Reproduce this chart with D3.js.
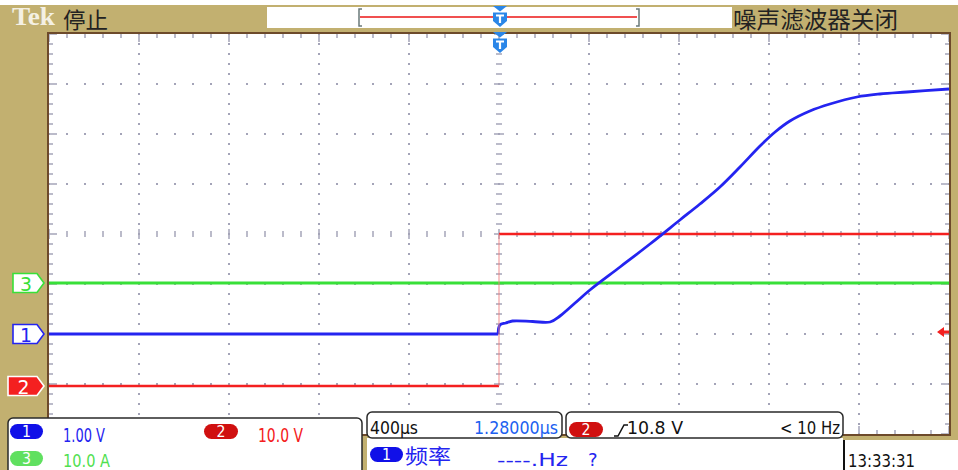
<!DOCTYPE html>
<html><head><meta charset="utf-8">
<script src="https://cdn.jsdelivr.net/npm/d3@7"></script>
<style>html,body{margin:0;padding:0;background:#fff;overflow:hidden}</style>
</head><body><svg id="scope" width="958" height="470"></svg>
<script>
// Channel 1 (1.00 V/div): time in µs relative to trigger, value in volts
const ch1Time  = [-2000, -4, 4, 30, 60, 150, 227, 271, 338, 404, 538, 671, 804, 893, 982, 1071, 1160, 1227, 1293, 1382, 1471, 1591, 1693, 1813, 2000];
const ch1Volts = [0, 0, 0.18, 0.22, 0.26, 0.25, 0.24, 0.36, 0.62, 0.88, 1.34, 1.80, 2.28, 2.60, 2.94, 3.34, 3.76, 4.04, 4.26, 4.46, 4.60, 4.74, 4.80, 4.84, 4.90];
// Channel 2 (10.0 V/div): step at the trigger
const ch2Time  = [-2000, 0, 0, 2000];
const ch2Volts = [0, 0, 30.4, 30.4];
// Channel 3 (10.0 A/div)
const ch3Time  = [-2000, 2000];
const ch3Amps  = [0, 0];

const timePerDiv = 400;          // µs/div
const ch1PerDiv = 1.0, ch2PerDiv = 10.0, ch3PerDiv = 10.0;
const ch1Offset = -2.0, ch2Offset = -3.04, ch3Offset = -0.98;   // ground position, divisions
const triggerLevel = 10.8;       // V on channel 2

const readouts = {ch1: "1.00 V", ch2: "10.0 V", ch3: "10.0 A", timebase: "400\u00b5s", position: "1.28000\u00b5s",
  trig: "10.8 V", trigFreq: "< 10 Hz", meas: "\u9891\u7387", measVal: "----.Hz", measQ: "?", clock: "13:33:31",
  state: "\u505c\u6b62", filter: "\u566a\u58f0\u6ee4\u6ce2\u5668\u5173\u95ed"};

const TAN = "#c2b070", BROWN = "#6d4a2b", DOT = "#a4a4b8";
const BLUE = "#2424f0", RED = "#f42020", GREEN = "#38e038";
const SANS = "'DejaVu Sans',sans-serif";
const CJK = "'Noto Sans CJK SC',sans-serif";

const svg = d3.select("#scope");
const xDiv = d3.scaleLinear().domain([-5, 5]).range([49, 949]);
const yDiv = d3.scaleLinear().domain([-4, 4]).range([434, 34]);
const xT = d3.scaleLinear().domain([-5 * timePerDiv, 5 * timePerDiv]).range([49, 949]);

// frame
svg.append("rect").attr("width", 958).attr("height", 470).attr("fill", TAN);
svg.append("rect").attr("width", 958).attr("height", 5).attr("fill", "#fff");
svg.append("rect").attr("x", xDiv(-5)).attr("y", yDiv(4)).attr("width", xDiv(5) - xDiv(-5)).attr("height", yDiv(-4) - yDiv(4)).attr("fill", "#fff");

// graticule
const g = svg.append("g");
const dots = [];
d3.range(-4, 5).forEach(i => { if (i !== 0) d3.range(-4, 4.01, 0.2).forEach(j => dots.push([xDiv(i), yDiv(j)])); });
d3.range(-3, 4).forEach(j => { if (j !== 0) d3.range(-5, 5.01, 0.2).forEach(i => dots.push([xDiv(i), yDiv(j)])); });
g.selectAll("rect.dot").data(dots).join("rect").attr("class", "dot")
  .attr("x", d => d[0] - 1).attr("y", d => d[1] - 1).attr("width", 2).attr("height", 2).attr("fill", DOT);
const hTicks = d3.range(-5, 5.01, 0.2).map(v => [v, Math.abs(v - Math.round(v)) < 1e-6]);
const vTicks = d3.range(-4, 4.01, 0.2).map(v => [v, Math.abs(v - Math.round(v)) < 1e-6]);
function tickSet(cls, data, attrs) {
  const sel = g.selectAll("line." + cls).data(data).join("line").attr("class", cls)
    .attr("stroke", DOT).attr("stroke-width", 1.5);
  Object.entries(attrs).forEach(([k, v]) => sel.attr(k, v));
}
// center-line ticks
tickSet("ch", hTicks, {x1: d => xDiv(d[0]), x2: d => xDiv(d[0]), y1: d => yDiv(0) - (d[1] ? 5 : 3), y2: d => yDiv(0) + (d[1] ? 5 : 3)});
tickSet("cv", vTicks, {y1: d => yDiv(d[0]), y2: d => yDiv(d[0]), x1: d => xDiv(0) - (d[1] ? 5 : 3), x2: d => xDiv(0) + (d[1] ? 5 : 3)});
// edge ticks
tickSet("et", hTicks, {x1: d => xDiv(d[0]), x2: d => xDiv(d[0]), y1: yDiv(4), y2: d => yDiv(4) + (d[1] ? 8 : 4)});
tickSet("eb", hTicks, {x1: d => xDiv(d[0]), x2: d => xDiv(d[0]), y1: yDiv(-4), y2: d => yDiv(-4) - (d[1] ? 8 : 4)});
tickSet("el", vTicks, {y1: d => yDiv(d[0]), y2: d => yDiv(d[0]), x1: xDiv(-5), x2: d => xDiv(-5) + (d[1] ? 8 : 4)});
tickSet("er", vTicks, {y1: d => yDiv(d[0]), y2: d => yDiv(d[0]), x1: xDiv(5), x2: d => xDiv(5) - (d[1] ? 8 : 4)});

// border
svg.append("rect").attr("x", xDiv(-5) - 1).attr("y", yDiv(4) - 1).attr("width", xDiv(5) - xDiv(-5) + 2).attr("height", yDiv(-4) - yDiv(4) + 2)
  .attr("fill", "none").attr("stroke", BROWN).attr("stroke-width", 2);

// traces
const traces = svg.append("g");
const line = d3.line().x(d => xT(d[0])).y(d => d[1]);
const smooth = d3.line().x(d => xT(d[0])).y(d => d[1]).curve(d3.curveCatmullRom.alpha(0.5));
const ch3 = ch3Time.map((t, i) => [t, yDiv(ch3Offset + ch3Amps[i] / ch3PerDiv)]);
const ch2 = ch2Time.map((t, i) => [t, yDiv(ch2Offset + ch2Volts[i] / ch2PerDiv)]);
const ch1 = ch1Time.map((t, i) => [t, yDiv(ch1Offset + ch1Volts[i] / ch1PerDiv)]);
traces.append("path").attr("d", line(ch3)).attr("fill", "none").attr("stroke", GREEN).attr("stroke-width", 2.8);
traces.append("path").attr("d", line(ch2.slice(0, 2))).attr("fill", "none").attr("stroke", RED).attr("stroke-width", 2.6);
traces.append("path").attr("d", line(ch2.slice(2))).attr("fill", "none").attr("stroke", RED).attr("stroke-width", 2.6);
traces.append("path").attr("d", line(ch1.slice(0, 2))).attr("fill", "none").attr("stroke", BLUE).attr("stroke-width", 2.8);
traces.append("path").attr("d", smooth(ch1.slice(1))).attr("fill", "none").attr("stroke", BLUE).attr("stroke-width", 2.8);
traces.append("path").attr("d", line(ch2.slice(1, 3))).attr("fill", "none").attr("stroke", "#f08080").attr("stroke-opacity", 0.45).attr("stroke-width", 2);

// text helper; w gives the drawn width of the string
function txt(x, y, s, color, size, w, anchor, fam) {
  const t = svg.append("text").attr("x", x).attr("y", y).attr("text-anchor", anchor || "start")
    .attr("font-family", fam || SANS).attr("font-size", size).attr("fill", color).text(s);
  if (w) t.attr("textLength", w).attr("lengthAdjust", "spacingAndGlyphs");
  return t;
}

// left channel markers
function chMarker(x0, y, fill, stroke, label, color) {
  const h = 9.5, tip = 44, body = tip - 7;
  svg.append("path").attr("d", `M${x0},${y - h}H${body}L${tip},${y}L${body},${y + h}H${x0}Z`)
    .attr("fill", fill).attr("stroke", stroke).attr("stroke-width", 1.6);
  txt((x0 + body) / 2 + 1, y + 7.5, label, color, 20, 12, "middle");
}
chMarker(13, yDiv(ch3Offset), "#fff", GREEN, "3", GREEN);
chMarker(13, yDiv(ch1Offset), "#fff", BLUE, "1", BLUE);
chMarker(8, yDiv(ch2Offset), RED, "#fff", "2", "#fff");

// trigger level arrow
const ty = yDiv(ch2Offset + triggerLevel / ch2PerDiv);
svg.append("path").attr("d", `M937,${ty}L944,${ty - 5}V${ty - 1.5}H949V${ty + 1.5}H944V${ty + 5}Z`).attr("fill", RED);

// top bar
txt(12, 25, "Tek", "#f4f0e4", 26, 43, "start", "'Liberation Serif',serif").attr("font-weight", "bold");
txt(63, 28, readouts.state, "#222", 22, 45, "start", CJK);
txt(733, 28, readouts.filter, "#222", 23, 165, "start", CJK);
svg.append("rect").attr("x", 267).attr("y", 7).attr("width", 465).attr("height", 21).attr("fill", "#fff");
svg.append("line").attr("x1", 360).attr("x2", 637).attr("y1", 17).attr("y2", 17).attr("stroke", "#f05050").attr("stroke-width", 2.2);
svg.append("path").attr("d", "M362,9H359V26H362").attr("fill", "none").attr("stroke", "#6a7a7a").attr("stroke-width", 1.5);
svg.append("path").attr("d", "M636,9H639V26H636").attr("fill", "none").attr("stroke", "#6a7a7a").attr("stroke-width", 1.5);

// trigger position markers
function tMarker(cx, y0) {
  const m = svg.append("g").attr("transform", `translate(${cx},${y0})`);
  m.append("path").attr("d", "M-7,0H7L0,5.5Z").attr("fill", "#2a86e8");
  m.append("path").attr("d", "M-7,6.5H7V15L0,21L-7,15Z").attr("fill", "#2a86e8");
  m.append("path").attr("d", "M-4,9.5H4M0,9.5V17").attr("stroke", "#fff").attr("stroke-width", 2.2);
}
tMarker(xT(0) + 1, 6);
tMarker(xT(0) + 1, 32);

// status readouts
function box(x, y, w, h) {
  svg.append("rect").attr("x", x).attr("y", y).attr("width", w).attr("height", h).attr("rx", 5)
    .attr("fill", "#fff").attr("stroke", "#2a2a2a").attr("stroke-width", 1.5);
}
function pill(x, y, w, h, fill, label) {
  svg.append("rect").attr("x", x).attr("y", y).attr("width", w).attr("height", h).attr("rx", h / 2).attr("fill", fill);
  txt(x + w / 2, y + h - 2, label, "#fff", 15, 9, "middle");
}
// lower white strips
svg.append("rect").attr("x", 367).attr("y", 438).attr("width", 476).attr("height", 32).attr("fill", "#fff");
svg.append("rect").attr("x", 844).attr("y", 440).attr("width", 114).attr("height", 30).attr("fill", "#fff");
svg.append("line").attr("x1", 844).attr("x2", 844).attr("y1", 440).attr("y2", 470).attr("stroke", "#111").attr("stroke-width", 2);

box(8, 418, 354, 60);
pill(10, 424, 33, 15, "#1010e8", "1");
txt(63, 442, readouts.ch1, BLUE, 19, 42);
pill(204, 424, 34, 15, "#d01010", "2");
txt(258, 442, readouts.ch2, RED, 19, 45);
pill(10, 451, 33, 15, "#60e060", "3");
txt(63, 467, readouts.ch3, "#50e050", 18, 47);

box(367, 412, 195, 26);
txt(370, 434, readouts.timebase, "#111", 18, 48);
txt(558, 434, readouts.position, "#2060f0", 18, 84, "end");

box(566, 412, 277, 26);
pill(569, 422, 34, 15, "#d01010", "2");
svg.append("path").attr("d", "M614,436H618L624,425H628").attr("fill", "none").attr("stroke", "#111").attr("stroke-width", 1.5);
txt(627, 434, readouts.trig, "#111", 18, 56);
txt(840, 434, readouts.trigFreq, "#111", 18, 60, "end");

pill(370, 447, 33, 15, "#1010e8", "1");
txt(405, 464, readouts.meas, BLUE, 20, 46, "start", CJK);
txt(497, 466, readouts.measVal, BLUE, 18, 71);
txt(588, 466, readouts.measQ, BLUE, 18);
txt(848, 467, readouts.clock, "#111", 18, 67);
</script></body></html>
